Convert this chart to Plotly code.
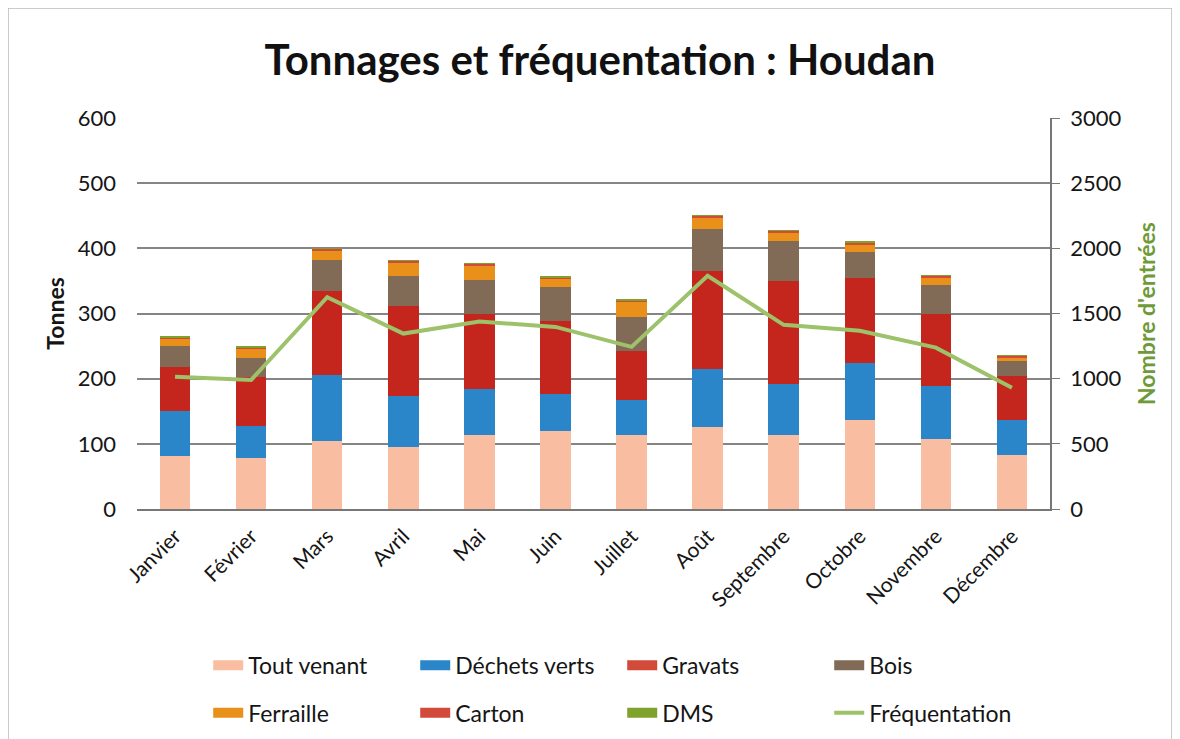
import plotly.graph_objects as go

mois = ["Janvier", "Février", "Mars", "Avril", "Mai", "Juin", "Juillet", "Août",
        "Septembre", "Octobre", "Novembre", "Décembre"]
tout_venant = [82, 78, 105, 95, 114, 119, 114, 126, 114, 137, 108, 83]
dechets_verts = [68, 49, 101, 79, 70, 58, 53, 89, 78, 87, 80, 53]
gravats = [68, 75, 129, 138, 115, 112, 75, 150, 158, 130, 111, 68]
bois = [32, 30, 47, 46, 52, 52, 52, 65, 61, 40, 44, 23]
ferraille = [11, 14, 15, 21, 23, 13, 24, 18, 14, 12, 13, 6]
carton = [2, 2, 2, 2, 2, 2, 2, 2, 2, 3, 2, 2]
dms = [1, 1, 1, 1, 1, 1, 1, 1, 1, 2, 1, 1]
frequentation = [1015, 990, 1625, 1346, 1438, 1397, 1244, 1790, 1413, 1367, 1238, 931]

series = [
    ("Tout venant", tout_venant, "#F9BDA2", "#F9BDA2"),
    ("Déchets verts", dechets_verts, "#2A86C9", "#2A86C9"),
    ("Gravats", gravats, "#C4261E", "#D24A3A"),
    ("Bois", bois, "#826B56", "#826B56"),
    ("Ferraille", ferraille, "#E8901A", "#E8901A"),
    ("Carton", carton, "#D24A3A", "#D24A3A"),
    ("DMS", dms, "#7FA22C", "#7FA22C"),
]
LINE_COL = "#9DC26A"

FONT = "Lato"
TXT = "#151515"
# the page body has an 8px margin: figure pixel = page pixel - 8
OFF = 8
PL, PT, PW, PH = 137 - OFF, 118 - OFF, 913, 391

fig = go.Figure()
for name, vals, col, _ in series:
    fig.add_trace(go.Bar(x=mois, y=vals, name=name, marker=dict(color=col, line=dict(width=0)),
                         yaxis="y", showlegend=False))
fig.add_trace(go.Scatter(x=mois, y=frequentation, name="Fréquentation", mode="lines",
                         line=dict(color=LINE_COL, width=4), yaxis="y2", showlegend=False))

legend_items = [(n, lc, 14) for n, _, _, lc in series] + [("Fréquentation", LINE_COL, 4)]
for i, (name, col, w) in enumerate(legend_items):
    fig.add_trace(go.Scatter(x=[None], y=[None], name=name, mode="lines",
                             line=dict(color=col, width=w), showlegend=True,
                             legend="legend" if i < 4 else "legend2"))

leg_common = dict(orientation="h", xanchor="left", yanchor="top",
                  entrywidth=162, entrywidthmode="pixels", font=dict(size=23, color=TXT),
                  traceorder="normal", bgcolor="rgba(0,0,0,0)")

fig.update_layout(
    width=1180, height=739,
    paper_bgcolor="white", plot_bgcolor="white",
    margin=dict(l=PL, r=1180 - PL - PW, t=PT, b=739 - PT - PH, autoexpand=False),
    barmode="stack", bargap=0.6,
    font=dict(family=FONT, size=19, color=TXT),
    title=dict(text="<b>Tonnages et fréquentation : Houdan</b>", x=(600 - OFF) / 1180,
               xanchor="center", y=0.929, yanchor="middle",
               font=dict(family=FONT, size=42, color="#111")),
    xaxis=dict(tickangle=-45, showgrid=False, showline=True, linecolor="#777", linewidth=1.5,
               ticks="", tickfont=dict(size=21), ticklabelstandoff=5),
    yaxis=dict(range=[0, 600], dtick=100, showgrid=True, gridcolor="#858585", gridwidth=1.5,
               zeroline=False, showline=False, ticks="", tickfont=dict(size=22),
               ticklabelstandoff=20,
               title=dict(text="<b>Tonnes</b>", font=dict(size=23), standoff=6)),
    yaxis2=dict(range=[0, 3000], dtick=500, overlaying="y", side="right", showgrid=False,
                zeroline=False, showline=True, linecolor="#777", linewidth=1.5,
                ticks="outside", ticklen=8, tickcolor="#777", tickfont=dict(size=22),
                ticklabelstandoff=6,
                title=dict(text="<b>Nombre d'entrées</b>", font=dict(size=23, color="#6E9A38"),
                           standoff=18)),
    legend=dict(x=0.078, y=-0.345, **leg_common),
    legend2=dict(x=0.078, y=-0.466, **leg_common),
    showlegend=True,
)
fig.add_shape(type="rect", xref="paper", yref="paper",
              x0=(8 - OFF - PL) / PW, x1=(1172 - OFF - PL) / PW,
              y0=-(760 - PT - PH) / PH, y1=(PT + PH - (8 - OFF)) / PH,
              line=dict(color="#BBBBBB", width=1.5), fillcolor="rgba(0,0,0,0)", layer="below")
fig.write_html("out.html")
